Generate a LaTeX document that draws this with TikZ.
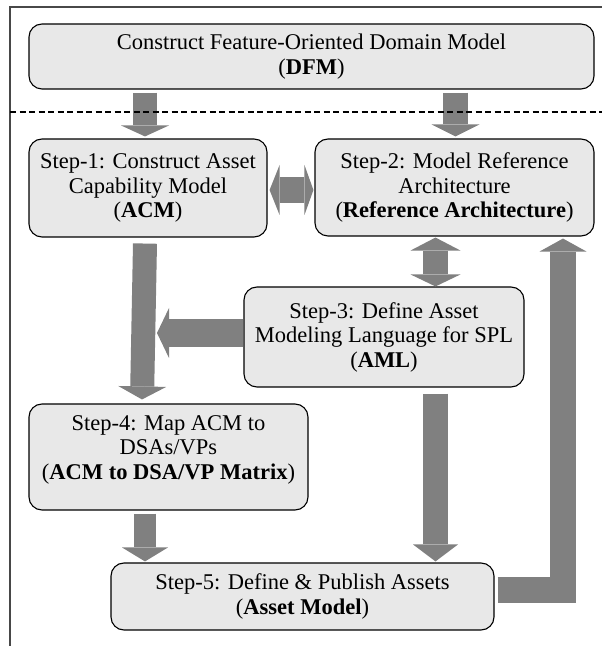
\documentclass[tikz,border=0pt]{standalone}
\usepackage{fontspec}
\setmainfont{Liberation Serif}
\usetikzlibrary{arrows.meta,calc}
\definecolor{boxfill}{RGB}{232,232,232}
\definecolor{arrowgray}{RGB}{128,128,128}
\definecolor{framegray}{RGB}{72,72,72}
\begin{document}
\begin{tikzpicture}[x=1pt,y=1pt,
  stepbox/.style={draw=black,line width=1.1pt,fill=boxfill,rounded corners=13pt,
    align=center,inner sep=0pt,font=\fontsize{22.5}{24.5}\selectfont},
  fatline/.style={draw=arrowgray,line width=#1},
  framestyle/.style={draw=framegray,line width=1.3pt},
  sepline/.style={draw=black,line width=1.4pt,dash pattern=on 6pt off 3.5pt}]
\useasboundingbox (0,0) rectangle (602,646);
% frame
\coordinate (fb) at (10,0);
\coordinate (ft) at (10,639);
\coordinate (fr) at (602,639);
\draw[framestyle] (fb) -- (ft) -- (fr);
% boxes
\node[stepbox,minimum width=565pt,minimum height=65pt] (dfm) at (311.5,589.5)
  {Construct Feature-Oriented Domain Model\\(\textbf{DFM})};
\node[stepbox,minimum width=238pt,minimum height=98pt] (s1) at (148,458)
  {Step-1: Construct Asset\\Capability Model\\(\textbf{ACM})};
\node[stepbox,minimum width=279pt,minimum height=97pt] (s2) at (454.5,458.5)
  {Step-2: Model Reference\\Architecture\\(\textbf{Reference Architecture})};
\node[stepbox,minimum width=280pt,minimum height=100pt] (s3) at (384,309)
  {Step-3: Define Asset\\Modeling Language for SPL\\(\textbf{AML})};
\node[stepbox,minimum width=279pt,minimum height=106pt] (s4) at (168.5,189)
  {Step-4: Map ACM to\\DSAs/VPs\\(\textbf{ACM to DSA/VP Matrix})\rule[-19pt]{0pt}{19pt}};
\node[stepbox,minimum width=383pt,minimum height=67pt] (s5) at (302.5,49.5)
  {Step-5: Define \& Publish Assets\\(\textbf{Asset Model})};
% arrows
\draw[fatline=24pt,-{Triangle[width=48pt,length=11pt,line width=0pt]}]
  ($(dfm.south -| s1.north)+(-3,-3)$) -- ($(s1.north)+(-3,2)$);
\draw[fatline=25pt,-{Triangle[width=48pt,length=12pt,line width=0pt]}]
  ($(dfm.south -| s2.north)+(1,-3)$) -- ($(s2.north)+(1,2)$);
\draw[fatline=26pt,{Triangle[width=50pt,length=10pt,line width=0pt]}-{Triangle[width=50pt,length=9pt,line width=0pt]}]
  ($(s1.east)+(2,-2)$) -- ($(s1.east -| s2.west)+(-1,-2)$);
\draw[fatline=25pt,{Triangle[width=50pt,length=13pt,line width=0pt]}-{Triangle[width=50pt,length=12pt,line width=0pt]}]
  ($(s2.south -| s3.north)+(51.5,-1)$) -- ($(s3.north)+(51.5,0)$);
\draw[fatline=24pt,-{Triangle[width=48pt,length=13pt,line width=0pt]}]
  ($(s1.south)+(-3,-6)$) -- ($(s4.north)+(-26.5,4)$);
\draw[fatline=28pt,-{Triangle[width=50pt,length=12pt,line width=0pt]}]
  ($(s3.west)+(0,4)$) -- ($(s3.west -| s1.south)+(9,4)$);
\draw[fatline=22pt,-{Triangle[width=46pt,length=14pt,line width=0pt]}]
  ($(s4.south)+(-23.5,-3)$) -- ($(s4.south |- s5.north)+(-23.5,1)$);
\draw[fatline=25pt,-{Triangle[width=45pt,length=17pt,line width=0pt]}]
  ($(s3.south)+(51.5,-6)$) -- ($(s3.south |- s5.north)+(51.5,1)$);
\draw[fatline=26pt,-{Triangle[width=47pt,length=13pt,line width=0pt]}]
  ($(s5.east)+(3,6.5)$) -| ($(s2.south)+(108.5,-2)$);
% dashed separator
\coordinate (dl) at (10,534);
\coordinate (dr) at (602,534);
\draw[sepline] (dl) -- (dr);
\end{tikzpicture}
\end{document}
